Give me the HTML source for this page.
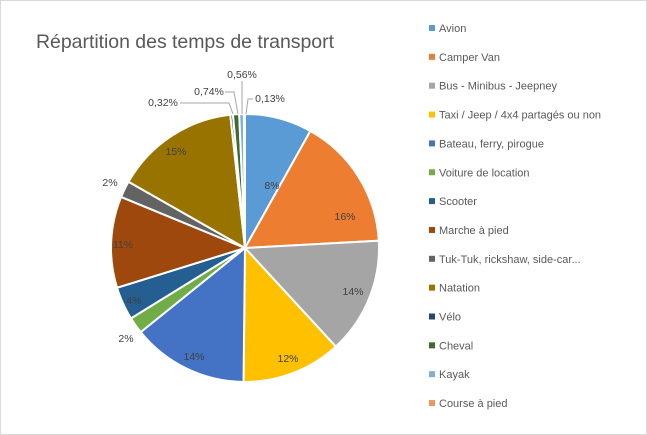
<!DOCTYPE html>
<html><head><meta charset="utf-8"><style>
body{margin:0;background:#fff}
#c{position:relative;width:645px;height:433px;border:1px solid #d9d9d9;background:#fff;font-family:"Liberation Sans",sans-serif;overflow:hidden}
svg{position:absolute;left:0;top:0}
</style></head><body>
<div id="c">
<svg width="645" height="433" id="s">
<text x="35" y="47" font-size="19.5" fill="#595959" font-family="Liberation Sans, sans-serif" textLength="298">Répartition des temps de transport</text>
<g id="pie"></g>
<g font-size="10.5" fill="#404040" font-family="Liberation Sans, sans-serif" text-anchor="middle">
<text x="271" y="188">8%</text>
<text x="344" y="219">16%</text>
<text x="352" y="294">14%</text>
<text x="287" y="361">12%</text>
<text x="193" y="359">14%</text>
<text x="125" y="341">2%</text>
<text x="133" y="303">4%</text>
<text x="122" y="247">11%</text>
<text x="109" y="185">2%</text>
<text x="175" y="154">15%</text>
<text x="162" y="105">0,32%</text>
<text x="208" y="94">0,74%</text>
<text x="241" y="77">0,56%</text>
<text x="269" y="101">0,13%</text>
</g>
<g stroke="#a6a6a6" stroke-width="1" fill="none">
<polyline points="179,102 228,102 232,113"/>
<polyline points="224,91 233,91 237,113"/>
<polyline points="241,80 241,113"/>
<polyline points="252,98 247,98 245,113"/>
</g>
<g id="leg" font-size="11" fill="#595959" font-family="Liberation Sans, sans-serif"></g>
</svg>
</div>
<script>
var d=[[8.1,"#5b9bd5","Avion"],[16,"#ed7d31","Camper Van"],[14,"#a5a5a5","Bus - Minibus - Jeepney"],[12,"#ffc000","Taxi / Jeep / 4x4 partagés ou non"],[14,"#4472c4","Bateau, ferry, pirogue"],[2,"#70ad47","Voiture de location"],[4,"#255e91","Scooter"],[11,"#9e480e","Marche à pied"],[2,"#636363","Tuk-Tuk, rickshaw, side-car..."],[15,"#997300","Natation"],[0.32,"#264478","Vélo"],[0.74,"#43682b","Cheval"],[0.56,"#7cafdd","Kayak"],[0.13,"#f1975a","Course à pied"]];
var tot=0;d.forEach(function(e){tot+=e[0]});
var cx=244,cy=247,r=134,a=0,h="";
d.forEach(function(e){var b=a+e[0]/tot*2*Math.PI;
var x1=cx+r*Math.sin(a),y1=cy-r*Math.cos(a),x2=cx+r*Math.sin(b),y2=cy-r*Math.cos(b);
h+='<path d="M'+cx+','+cy+' L'+x1+','+y1+' A'+r+','+r+' 0 '+((b-a)>Math.PI?1:0)+' 1 '+x2+','+y2+' Z" fill="'+e[1]+'" stroke="#fff" stroke-width="2"/>';a=b;});
document.getElementById("pie").innerHTML=h;
var l="";d.forEach(function(e,i){var y=27+i*28.85;
l+='<rect x="428" y="'+(y-3)+'" width="6" height="6" fill="'+e[1]+'"/><text x="438" y="'+(y+4)+'">'+e[2]+'</text>';});
document.getElementById("leg").innerHTML=l;
</script>
</body></html>
